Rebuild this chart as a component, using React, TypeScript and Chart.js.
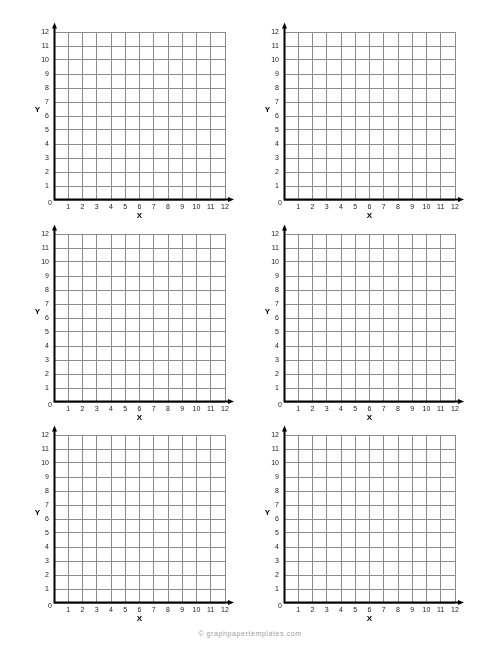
import React, { useEffect, useRef } from 'react';
import { Chart, registerables } from 'chart.js';

Chart.register(...registerables);

// axis range and tick labels (0 is drawn once, at the corner)
const xTickLabels = ['', '1', '2', '3', '4', '5', '6', '7', '8', '9', '10', '11', '12'];
const yTickLabels = ['', '1', '2', '3', '4', '5', '6', '7', '8', '9', '10', '11', '12'];
const originLabel = '0';
const axisMin = 0;
const axisMax = 12;
const xTitle = 'X';
const yTitle = 'Y';
const footerText = '© graphpapertemplates.com';

// panel top-left corners (page px) for the 3x2 sheet
const panelLefts = [19, 249];
const panelTops = [20, 222, 423];

const FONT = "'Liberation Sans', Arial, sans-serif";
const CANVAS_W = 221;
const CANVAS_H = 202;

const axisArrows = {
  id: 'axisArrows',
  afterDraw(chart: any) {
    const { ctx } = chart;
    const x = chart.scales.x;
    const y = chart.scales.y;
    const ox = x.getPixelForValue(axisMin) + 0.5;
    const oy = y.getPixelForValue(axisMin) - 0.5;
    const tipY = y.getPixelForValue(axisMax) - 9.5;
    const tipX = x.getPixelForValue(axisMax) + 9;

    ctx.save();
    ctx.strokeStyle = '#000';
    ctx.fillStyle = '#000';
    ctx.lineWidth = 2;
    ctx.beginPath();
    ctx.moveTo(ox, oy + 1);
    ctx.lineTo(ox, tipY + 4);
    ctx.moveTo(ox - 1, oy);
    ctx.lineTo(tipX - 4, oy);
    ctx.stroke();

    // arrow heads
    ctx.beginPath();
    ctx.moveTo(ox, tipY);
    ctx.lineTo(ox - 2.5, tipY + 6);
    ctx.lineTo(ox + 2.5, tipY + 6);
    ctx.closePath();
    ctx.fill();
    ctx.beginPath();
    ctx.moveTo(tipX, oy);
    ctx.lineTo(tipX - 6, oy - 2.5);
    ctx.lineTo(tipX - 6, oy + 2.5);
    ctx.closePath();
    ctx.fill();

    // upright Y label
    ctx.font = `bold 8px ${FONT}`;
    ctx.textAlign = 'center';
    ctx.textBaseline = 'middle';
    ctx.fillText(yTitle, ox - 17, y.getPixelForValue(6.5) + 1);

    // corner 0
    ctx.fillStyle = '#222';
    ctx.font = `7px ${FONT}`;
    ctx.fillText(originLabel, ox - 4.5, oy + 3.5);
    ctx.restore();
  },
};

const GraphPanel: React.FC<{ left: number; top: number }> = ({ left, top }) => {
  const chartRef = useRef<HTMLCanvasElement>(null);
  const chartInstanceRef = useRef<Chart | null>(null);

  useEffect(() => {
    if (!chartRef.current) return;
    if (chartInstanceRef.current) {
      chartInstanceRef.current.destroy();
    }
    const ctx = chartRef.current.getContext('2d');
    if (!ctx) return;

    chartInstanceRef.current = new Chart(ctx, {
      type: 'scatter',
      data: { datasets: [{ data: [] }] },
      options: {
        animation: false,
        responsive: false,
        layout: { padding: { top: 12, right: 15, left: 0, bottom: 0 } },
        plugins: {
          legend: { display: false },
          tooltip: { enabled: false },
        },
        scales: {
          x: {
            type: 'linear',
            min: axisMin,
            max: axisMax,
            afterFit: (scale: any) => {
              scale.height = 22;
            },
            grid: { color: '#8c8c8c', lineWidth: 1, drawTicks: false },
            border: { display: false },
            ticks: {
              stepSize: 1,
              padding: 3,
              maxRotation: 0,
              autoSkip: false,
              color: '#222',
              font: { size: 7, family: FONT },
              callback: (v: any) => xTickLabels[v] ?? '',
            },
            title: {
              display: true,
              text: xTitle,
              color: '#000',
              padding: { top: 0, bottom: 1.5 },
              font: { size: 8, weight: 'bold', family: FONT },
            },
          },
          y: {
            type: 'linear',
            min: axisMin,
            max: axisMax,
            afterFit: (scale: any) => {
              scale.width = 35;
            },
            grid: { color: '#8c8c8c', lineWidth: 1, drawTicks: false },
            border: { display: false },
            ticks: {
              stepSize: 1,
              padding: 5,
              autoSkip: false,
              color: '#222',
              font: { size: 7, family: FONT },
              callback: (v: any) => yTickLabels[v] ?? '',
            },
          },
        },
      },
      plugins: [axisArrows],
    } as any);

    return () => {
      if (chartInstanceRef.current) {
        chartInstanceRef.current.destroy();
        chartInstanceRef.current = null;
      }
    };
  }, []);

  return (
    <canvas
      ref={chartRef}
      width={CANVAS_W}
      height={CANVAS_H}
      style={{ position: 'absolute', left, top, width: CANVAS_W, height: CANVAS_H }}
    />
  );
};

export default function App() {
  return (
    <div
      style={{
        position: 'fixed',
        left: 0,
        top: 0,
        width: 500,
        height: 647,
        background: '#fff',
        overflow: 'hidden',
      }}
    >
      {panelTops.map((t) =>
        panelLefts.map((l) => <GraphPanel key={`${l}-${t}`} left={l} top={t} />)
      )}
      <div
        style={{
          position: 'absolute',
          left: 0,
          width: 500,
          top: 630,
          textAlign: 'center',
          fontFamily: FONT,
          fontSize: 7,
          letterSpacing: 0.6,
          color: '#a0a0a0',
        }}
      >
        {footerText}
      </div>
    </div>
  );
}
